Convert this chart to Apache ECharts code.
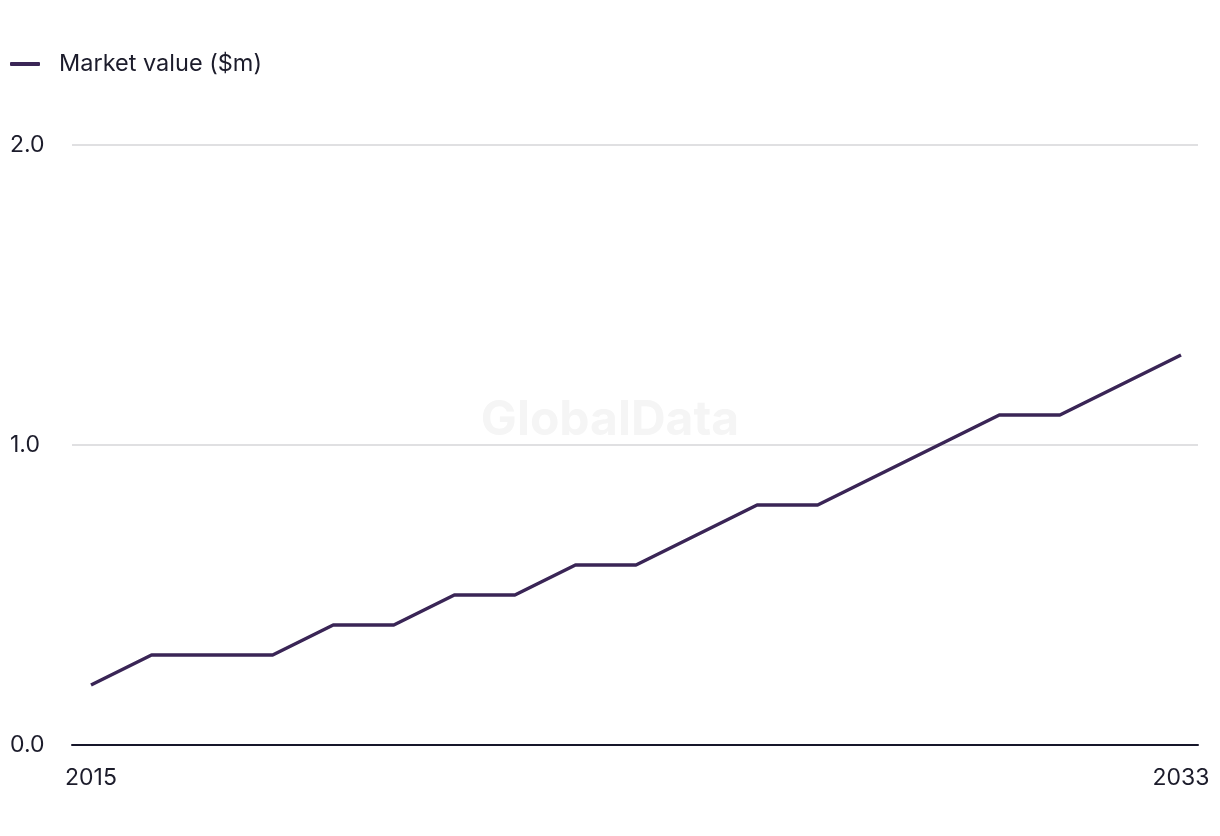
<!DOCTYPE html>
<html>
<head>
<meta charset="utf-8">
<script src="https://cdn.jsdelivr.net/npm/echarts@6/dist/echarts.min.js"></script>
<style>html,body{margin:0;padding:0;background:#fff}#c{width:1220px;height:836px}</style>
</head>
<body>
<div id="c"></div>
<script>
const years = [2015,2016,2017,2018,2019,2020,2021,2022,2023,2024,2025,2026,2027,2028,2029,2030,2031,2032,2033];
const marketValue = [0.2,0.3,0.3,0.3,0.4,0.4,0.5,0.5,0.6,0.6,0.7,0.8,0.8,0.9,1.0,1.1,1.1,1.2,1.3];
const xTickLabels = [2015, 2033];
const yTicks = [0, 1, 2];
const seriesName = 'Market value ($m)';

const chart = echarts.init(document.getElementById('c'), null, {renderer:'canvas'});
const font = 'Inter';
chart.setOption({
  animation: false,
  backgroundColor: '#fff',
  graphic: [{
    type: 'text', left: 'center', top: 397, z: 0,
    style: { text: 'GlobalData', font: 'bold 48px Inter', fill: '#f5f5f5' }
  }],
  legend: {
    left: 5, top: 47,
    itemWidth: 30, itemHeight: 4, icon: 'roundRect',
    textStyle: { fontFamily: font, fontSize: 23.5, color: '#1c1c2b', padding: [0,0,0,14] },
    data: [seriesName]
  },
  grid: { left: 72, right: 22, top: 145, bottom: 91, containLabel: false },
  xAxis: {
    type: 'value',
    min: 2015 - 19/60.56, max: 2033 + 17/60.56,
    axisLine: { show: true, lineStyle: { color: '#16162a', width: 2 } },
    axisTick: { show: false },
    splitLine: { show: false },
    axisLabel: {
      customValues: xTickLabels,
      formatter: v => String(v),
      fontFamily: font, fontSize: 23, color: '#1c1c2b', margin: 22
    }
  },
  yAxis: {
    type: 'value', min: 0, max: 2, interval: 1,
    axisLine: { show: false }, axisTick: { show: false },
    splitLine: { lineStyle: { color: '#d6d6d9', width: 1.5 } },
    axisLabel: {
      formatter: v => v.toFixed(1), align: 'left', margin: 62,
      fontFamily: font, fontSize: 23, color: '#1c1c2b', padding: [3,0,0,0]
    }
  },
  series: [{
    name: seriesName, type: 'line',
    data: years.map((y,i) => [y, marketValue[i]]),
    showSymbol: false, symbol: 'none',
    lineStyle: { color: '#3a2556', width: 3.5 },
    itemStyle: { color: '#3a2556' }
  }]
});
</script>
</body>
</html>
